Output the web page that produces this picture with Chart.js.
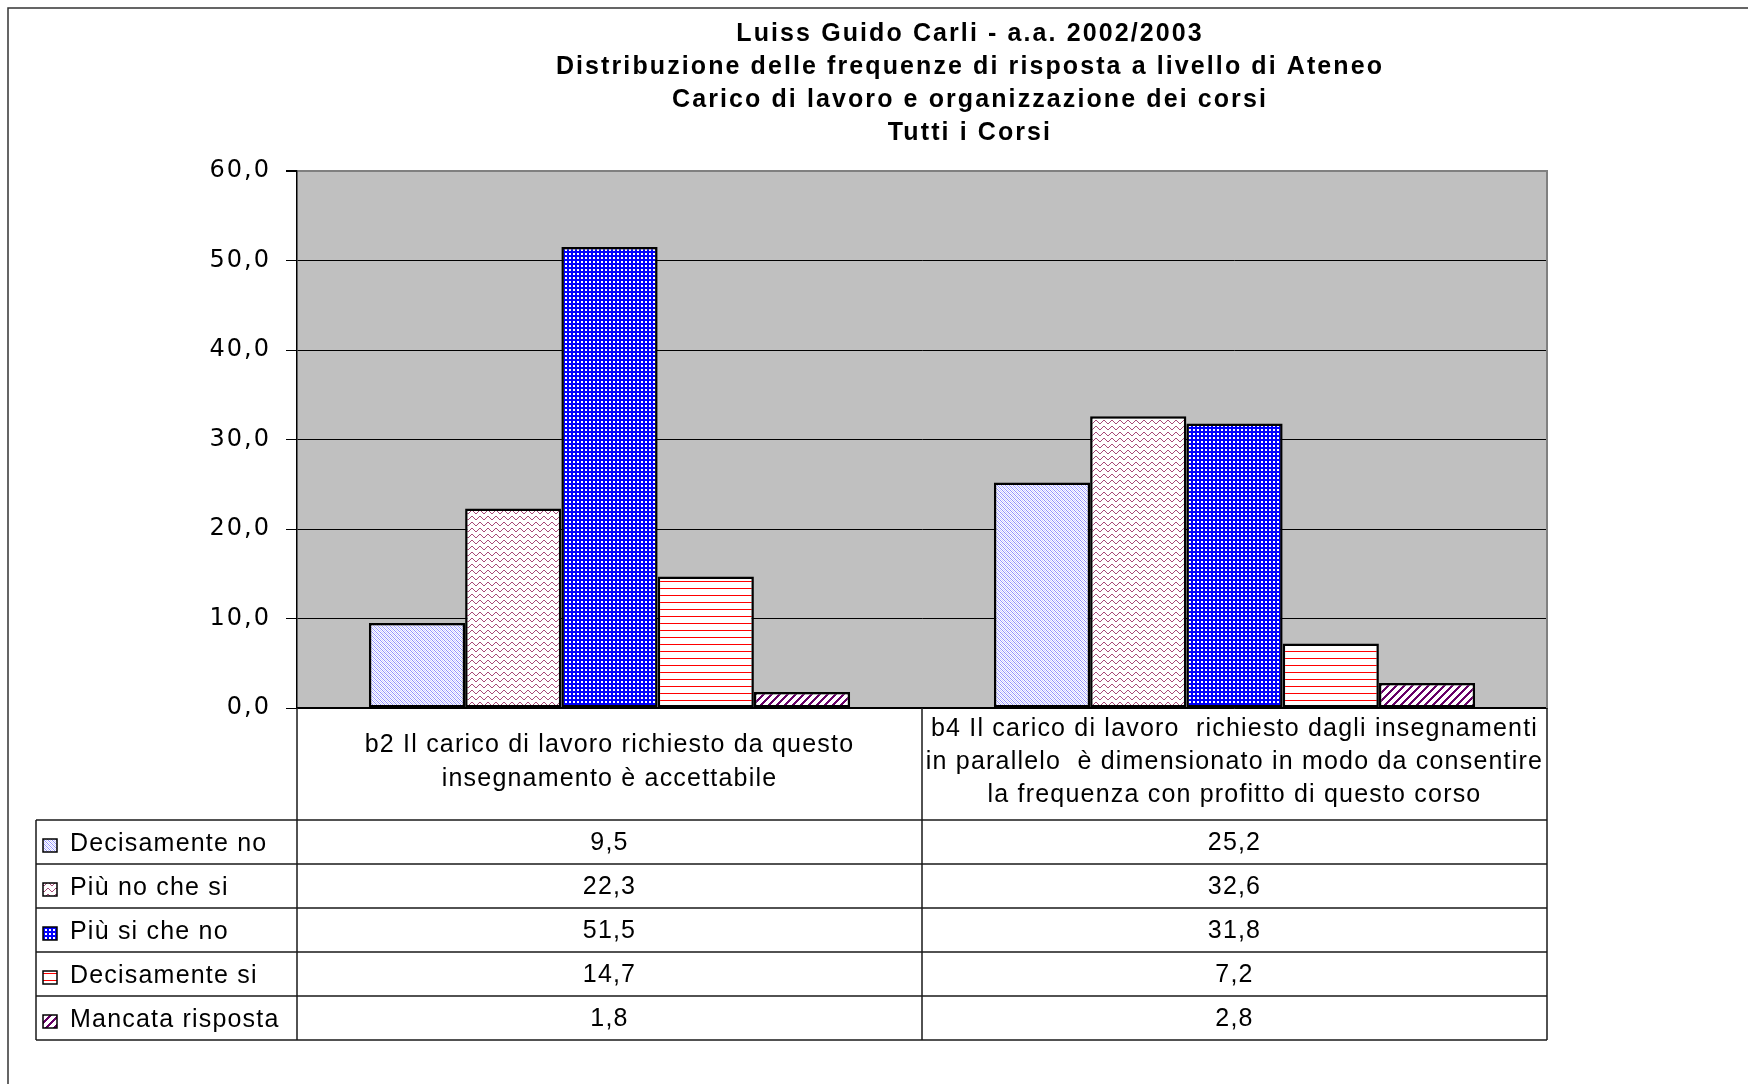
<!DOCTYPE html>
<html>
<head>
<meta charset="utf-8">
<script src="https://cdn.jsdelivr.net/npm/chart.js@4.4.1/dist/chart.umd.min.js"></script>
<style>
html,body{margin:0;padding:0;background:#fff;}
canvas{display:block;}
</style>
</head>
<body>
<canvas id="c" width="1748" height="1084"></canvas>
<script>
// ---------- DATA ----------
const titleLines = [
  "Luiss Guido Carli - a.a. 2002/2003",
  "Distribuzione delle frequenze di risposta a livello di Ateneo",
  "Carico di lavoro e organizzazione dei corsi",
  "Tutti i Corsi"
];
const categories = [
  ["b2 Il carico di lavoro richiesto da questo", "insegnamento è accettabile"],
  ["b4 Il carico di lavoro  richiesto dagli insegnamenti", "in parallelo  è dimensionato in modo da consentire", "la frequenza con profitto di questo corso"]
];
const seriesNames = ["Decisamente no", "Più no che si", "Più si che no", "Decisamente si", "Mancata risposta"];
const decisamenteNo   = [9.5, 25.2];
const piuNoCheSi      = [22.3, 32.6];
const piuSiCheNo      = [51.5, 31.8];
const decisamenteSi   = [14.7, 7.2];
const mancataRisposta = [1.8, 2.8];
const yTicks = [0, 10, 20, 30, 40, 50, 60];

const seriesValues = [decisamenteNo, piuNoCheSi, piuSiCheNo, decisamenteSi, mancataRisposta];
const fmt = v => Number(v).toFixed(1).replace('.', ',');

// ---------- PATTERNS ----------
const canvas = document.getElementById('c');
const mainCtx = canvas.getContext('2d');
function makePattern(w, h, bg, fn) {
  const c = document.createElement('canvas');
  c.width = w; c.height = h;
  const g = c.getContext('2d');
  g.fillStyle = bg; g.fillRect(0, 0, w, h);
  for (let y = 0; y < h; y++) for (let x = 0; x < w; x++) {
    const col = fn(x, y);
    if (col) { g.fillStyle = col; g.fillRect(x, y, 1, 1); }
  }
  return mainCtx.createPattern(c, 'repeat');
}
const patterns = [
  makePattern(4, 4, '#ffffff', (x, y) => ((x - y + 8) % 4 === 0) ? '#9090ff' : (((x - y + 8) % 4 === 2) ? '#cfcfff' : null)),
  makePattern(8, 6, '#ffffff', (x, y) => (y === (x < 4 ? x : 7 - x)) ? '#a84a78' : null),
  makePattern(4, 4, '#0000ff', (x, y) => ((x === 1 || x === 2) && (y === 1 || y === 2)) ? '#ffffff' : null),
  makePattern(4, 7, '#ffffff', (x, y) => y === 0 ? '#ff0000' : null),
  makePattern(8, 8, '#ffffff', (x, y) => ((x + y) % 8) < 3 ? '#660066' : null)
];

// ---------- PLUGIN: background, title, data table ----------
const deco = {
  id: 'deco',
  beforeDraw(chart) {
    const ctx = chart.ctx, ca = chart.chartArea;
    ctx.fillStyle = '#c0c0c0';
    ctx.fillRect(ca.left, ca.top, ca.right - ca.left, ca.bottom - ca.top);
    ctx.letterSpacing = '2px'; // spacing for y tick labels
  },
  beforeDatasetsDraw(chart) {
    const ctx = chart.ctx, ca = chart.chartArea;
    ctx.letterSpacing = '0px';
    ctx.save();
    ctx.strokeStyle = '#808080';
    ctx.lineWidth = 2;
    ctx.beginPath();
    ctx.moveTo(ca.right, ca.top - 1);
    ctx.lineTo(ca.right, ca.bottom);
    ctx.stroke();
    ctx.restore();
  },
  afterDraw(chart) {
    const ctx = chart.ctx, ca = chart.chartArea, xs = chart.scales.x;
    ctx.save();
    // outer frame
    ctx.strokeStyle = '#333';
    ctx.lineWidth = 1.5;
    ctx.beginPath();
    ctx.moveTo(8, 1090); ctx.lineTo(8, 8); ctx.lineTo(1760, 8);
    ctx.stroke();

    // title
    ctx.fillStyle = '#000';
    ctx.font = 'bold 25px "Liberation Sans", Arial, sans-serif';
    ctx.letterSpacing = '2.1px';
    ctx.textAlign = 'center';
    ctx.textBaseline = 'middle';
    titleLines.forEach((t, i) => ctx.fillText(t, 970, 34 + i * 33));

    // table geometry from the x scale
    const n = categories.length;
    const w = n > 1 ? xs.getPixelForTick(1) - xs.getPixelForTick(0) : (ca.right - ca.left);
    const edges = [];
    for (let i = 0; i < n; i++) edges.push(xs.getPixelForTick(i) - w / 2);
    edges.push(xs.getPixelForTick(n - 1) + w / 2);
    const headerBottom = ca.bottom + 112;
    const rowH = 44;
    const tableLeft = 36;
    const tableBottom = headerBottom + rowH * seriesNames.length;

    ctx.strokeStyle = '#1a1a1a';
    ctx.lineWidth = 1.5;
    ctx.beginPath();
    edges.forEach(x => { ctx.moveTo(x, ca.bottom); ctx.lineTo(x, tableBottom); });
    ctx.moveTo(tableLeft, headerBottom); ctx.lineTo(tableLeft, tableBottom);
    for (let k = 0; k <= seriesNames.length; k++) {
      const y = headerBottom + k * rowH;
      ctx.moveTo(tableLeft, y); ctx.lineTo(edges[edges.length - 1], y);
    }
    ctx.stroke();

    // category labels
    ctx.font = '25px "Liberation Sans", Arial, sans-serif';
    ctx.letterSpacing = '1.2px';
    ctx.textAlign = 'center';
    ctx.textBaseline = 'middle';
    const hc = (ca.bottom + headerBottom) / 2 - 2;
    const lh = 33.3;
    categories.forEach((lines, i) => {
      const cx = xs.getPixelForTick(i);
      lines.forEach((t, j) => ctx.fillText(t, cx, hc + (j - (lines.length - 1) / 2) * lh));
    });

    // rows: legend key + values
    seriesNames.forEach((name, r) => {
      const yc = headerBottom + r * rowH + rowH / 2;
      ctx.fillStyle = patterns[r];
      ctx.fillRect(43, yc - 3, 14, 13);
      ctx.strokeStyle = '#000';
      ctx.lineWidth = 1.5;
      ctx.strokeRect(43, yc - 3, 14, 13);
      ctx.fillStyle = '#000';
      ctx.textAlign = 'left';
      ctx.fillText(name, 70, yc + 2);
      ctx.textAlign = 'center';
      seriesValues[r].forEach((v, i) => ctx.fillText(fmt(v), xs.getPixelForTick(i), yc + 1));
    });
    ctx.letterSpacing = '0px';
    ctx.restore();
  }
};

new Chart(canvas, {
  type: 'bar',
  data: {
    labels: categories,
    datasets: seriesNames.map((name, i) => ({
      label: name,
      data: seriesValues[i],
      backgroundColor: patterns[i],
      borderColor: '#000',
      borderWidth: 2.5,
      borderSkipped: false
    }))
  },
  options: {
    responsive: false,
    animation: false,
    devicePixelRatio: 1,
    layout: { padding: { left: 0, right: 201, top: 171, bottom: 376 } },
    datasets: { bar: { categoryPercentage: 0.77, barPercentage: 1 } },
    plugins: { legend: { display: false }, title: { display: false }, tooltip: { enabled: false } },
    scales: {
      x: {
        ticks: { display: false },
        grid: { display: false, drawTicks: false },
        border: { display: true, color: '#000', width: 1.5 },
        afterFit(s) { s.height = 0; }
      },
      y: {
        min: 0, max: 60,
        afterBuildTicks(s) { s.ticks = yTicks.map(v => ({ value: v })); },
        ticks: {
          callback: v => fmt(v),
          font: { family: 'DejaVu Sans', size: 24 },
          color: '#000',
          padding: 15
        },
        grid: {
          color: c => (c.tick && c.tick.value === 60) ? '#808080' : '#000',
          lineWidth: c => (c.tick && c.tick.value === 60) ? 2 : 1,
          tickLength: 11,
          tickColor: '#000'
        },
        border: { color: '#000', width: 1.5 },
        afterFit(s) { s.width = 297; }
      }
    }
  },
  plugins: [deco]
});
</script>
</body>
</html>
